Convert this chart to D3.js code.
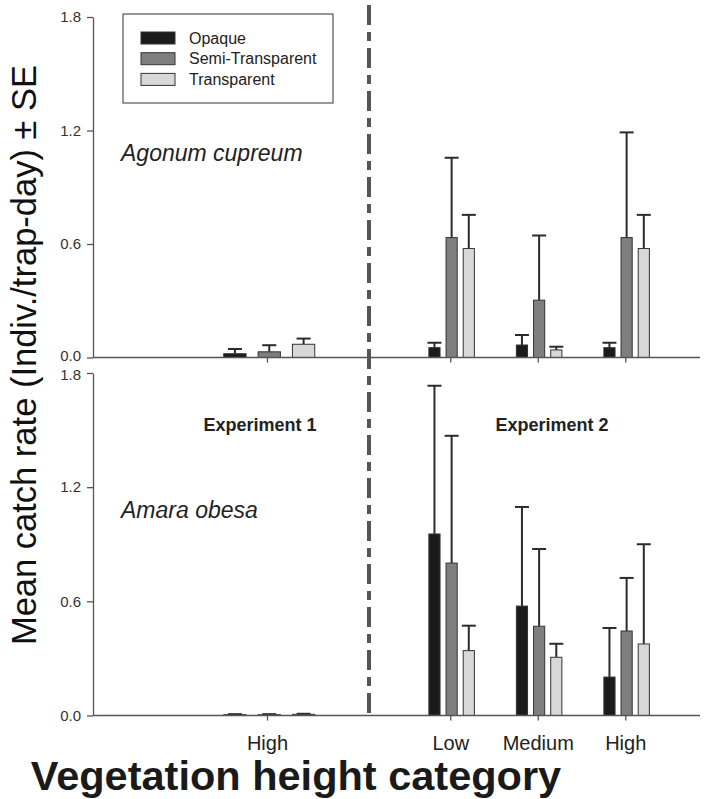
<!DOCTYPE html>
<html>
<head>
<meta charset="utf-8">
<script src="https://cdn.jsdelivr.net/npm/d3@7"></script>
<style>
  body { margin: 0; background: #fff; }
  svg { display: block; font-family: "Liberation Sans", Arial, sans-serif; }
</style>
</head>
<body>
<svg id="main-svg" width="707" height="799"></svg>
<script>
'use strict';

// ---- data ----
const series = ['Opaque', 'Semi-Transparent', 'Transparent'];
const exp1Cats = ['High'];
const exp2Cats = ['Low', 'Medium', 'High'];
const yTicks = [0, 0.6, 1.2, 1.8];

// Agonum cupreum (top panel)
const agonumExp1Mean = [[0.02, 0.03, 0.07]];
const agonumExp1SE = [[0.025, 0.035, 0.03]];
const agonumExp2Mean = [[0.052, 0.634, 0.576], [0.066, 0.303, 0.04], [0.052, 0.634, 0.576]];
const agonumExp2SE = [[0.026, 0.422, 0.178], [0.053, 0.342, 0.017], [0.026, 0.556, 0.178]];

// Amara obesa (bottom panel)
const amaraExp1Mean = [[0.004, 0.004, 0.006]];
const amaraExp1SE = [[0.003, 0.003, 0.003]];
const amaraExp2Mean = [[0.954, 0.801, 0.341], [0.575, 0.469, 0.306], [0.202, 0.444, 0.376]];
const amaraExp2SE = [[0.779, 0.669, 0.131], [0.521, 0.406, 0.071], [0.258, 0.279, 0.524]];

const colors = {'Opaque': '#1b1b1b', 'Semi-Transparent': '#7f7f7f', 'Transparent': '#d8d8d8'};
const axisColor = '#555';
const inkColor = '#2b2b2b';

const svg = d3.select('#main-svg');
const left = 93, right = 700;

// x scales: experiment 1 is drawn at twice the scale of experiment 2
const x1 = d3.scaleBand().domain(exp1Cats).range([180, 355]);
const x2 = d3.scaleBand().domain(exp2Cats).range([407, 669.5]);
const inner = (outer) => d3.scaleBand().domain(series)
    .range([outer.bandwidth() * 0.25, outer.bandwidth() * 0.77])
    .paddingInner(0.35);

const panels = [
    {name: 'Agonum cupreum', y: d3.scaleLinear().domain([0, 1.8]).range([357.5, 17]),
     e1: [agonumExp1Mean, agonumExp1SE], e2: [agonumExp2Mean, agonumExp2SE],
     labels: false, nameY: 161, nudge: {0: -1.5}},
    {name: 'Amara obesa', y: d3.scaleLinear().domain([0, 1.8]).range([715.5, 373]),
     e1: [amaraExp1Mean, amaraExp1SE], e2: [amaraExp2Mean, amaraExp2SE],
     labels: true, nameY: 518, nudge: {1.8: 1.5}},
];

const drawGroup = (g, y, xs, cats, means, ses) => {
    const xi = inner(xs);
    const capW = 7;
    cats.forEach((c, ci) => {
        series.forEach((s, si) => {
            const m = means[ci][si], se = ses[ci][si];
            const bx = xs(c) + xi(s), bw = xi.bandwidth();
            const cx = bx + bw / 2;
            // error bar (upper only)
            g.append('line')
                .attr('x1', cx).attr('x2', cx)
                .attr('y1', y(m)).attr('y2', y(m + se))
                .attr('stroke', inkColor).attr('stroke-width', 2);
            g.append('line')
                .attr('x1', cx - capW).attr('x2', cx + capW)
                .attr('y1', y(m + se)).attr('y2', y(m + se))
                .attr('stroke', inkColor).attr('stroke-width', 2);
            g.append('rect')
                .attr('x', bx).attr('width', bw)
                .attr('y', y(m)).attr('height', y(0) - y(m))
                .attr('fill', colors[s])
                .attr('stroke', '#333').attr('stroke-width', 1);
        });
    });
};

panels.forEach((p) => {
    const g = svg.append('g');
    drawGroup(g, p.y, x1, exp1Cats, p.e1[0], p.e1[1]);
    drawGroup(g, p.y, x2, exp2Cats, p.e2[0], p.e2[1]);

    // y axis
    const ya = g.append('g')
        .attr('transform', `translate(${left},0)`)
        .call(d3.axisLeft(p.y).tickValues(yTicks).tickFormat(d3.format('.1f'))
            .tickSize(6).tickPadding(6).tickSizeOuter(0));
    ya.select('.domain').attr('stroke', axisColor).attr('stroke-width', 1.3);
    ya.selectAll('.tick line').attr('stroke', axisColor).attr('stroke-width', 1.3);
    ya.selectAll('.tick text').attr('font-size', 15).attr('fill', '#333')
        .attr('font-family', '"Liberation Sans", Arial, sans-serif')
        .attr('y', d => p.nudge[d] || 0);

    // x axis line and ticks
    const y0 = p.y(0);
    g.append('line').attr('x1', left).attr('x2', right).attr('y1', y0).attr('y2', y0)
        .attr('stroke', axisColor).attr('stroke-width', 1.3);
    const ticks = exp1Cats.map(c => ({c, x: x1(c) + x1.bandwidth() / 2}))
        .concat(exp2Cats.map(c => ({c, x: x2(c) + x2.bandwidth() / 2})));
    g.selectAll('line.xt').data(ticks).enter().append('line')
        .attr('class', 'xt')
        .attr('x1', d => d.x).attr('x2', d => d.x)
        .attr('y1', y0).attr('y2', y0 + 5)
        .attr('stroke', axisColor).attr('stroke-width', 1.3);
    if (p.labels) {
        g.selectAll('text.xl').data(ticks).enter().append('text')
            .attr('class', 'xl')
            .attr('x', d => d.x).attr('y', 750)
            .attr('text-anchor', 'middle')
            .attr('font-size', 20).attr('fill', '#222')
            .text(d => d.c);
    }

    // species name
    g.append('text').attr('x', 121).attr('y', p.nameY)
        .attr('font-size', 23).attr('font-style', 'italic').attr('fill', '#222')
        .text(p.name);
});

// experiment labels
svg.append('text').attr('x', 260).attr('y', 431).attr('text-anchor', 'middle')
    .attr('font-size', 18).attr('font-weight', 'bold').attr('fill', '#222').text('Experiment 1');
svg.append('text').attr('x', 552).attr('y', 431).attr('text-anchor', 'middle')
    .attr('font-size', 18).attr('font-weight', 'bold').attr('fill', '#222').text('Experiment 2');

// dashed divider between experiments
svg.append('line').attr('x1', 369).attr('x2', 369).attr('y1', 5).attr('y2', 714)
    .attr('stroke', '#555').attr('stroke-width', 4)
    .attr('stroke-dasharray', '20,7,9,7');

// legend
const leg = svg.append('g');
leg.append('rect').attr('x', 123).attr('y', 14).attr('width', 210).attr('height', 89)
    .attr('fill', '#fff').attr('stroke', '#333').attr('stroke-width', 1);
series.forEach((s, i) => {
    const cy = 38 + i * 20.7;
    leg.append('rect').attr('x', 141).attr('y', cy - 6).attr('width', 34).attr('height', 12)
        .attr('fill', colors[s]).attr('stroke', '#333').attr('stroke-width', 1);
    leg.append('text').attr('x', 189).attr('y', cy + 5.5)
        .attr('font-size', 16).attr('fill', '#222').text(s);
});

// axis titles
svg.append('text')
    .attr('transform', 'translate(36,355) rotate(-90)')
    .attr('text-anchor', 'middle')
    .attr('font-size', 34.5).attr('fill', '#111')
    .text('Mean catch rate (Indiv./trap-day) \u00b1 SE');
svg.append('text')
    .attr('x', 296).attr('y', 790).attr('text-anchor', 'middle')
    .attr('font-size', 41.5).attr('font-weight', 'bold').attr('fill', '#1a1a1a')
    .text('Vegetation height category');
</script>
</body>
</html>
